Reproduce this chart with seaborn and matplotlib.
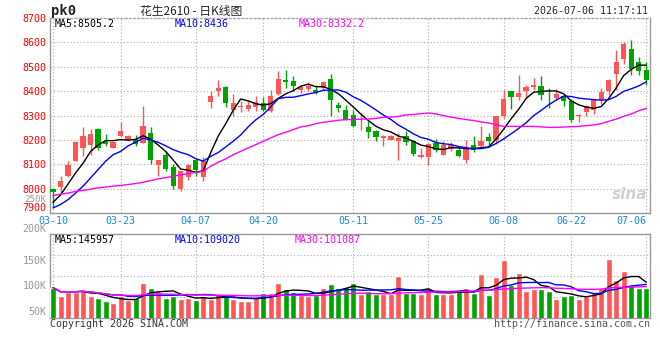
import numpy as np
import pandas as pd
import matplotlib
matplotlib.use("Agg")
import matplotlib.pyplot as plt
import matplotlib.transforms as mtransforms
import seaborn as sns

# ---- data ----
tick_idx = [0, 9, 19, 28, 40, 50, 60, 69, 79]
tick_lbl = ["03-10", "03-23", "04-07", "04-20", "05-11", "05-25", "06-08", "06-22", "07-06"]

opens = [8000, 8007, 8052, 8116, 8169, 8181, 8247, 8192, 8169, 8215,
         8199, 8204, 8188, 8230, 8097, 8140, 8089, 8000, 8049, 8120,
         8049, 8354, 8400, 8417, 8322, 8335, 8327, 8335, 8352, 8318,
         8390, 8447, 8443, 8404, 8410, 8406, 8413, 8450, 8345, 8324,
         8304, 8289, 8252, 8239, 8210, 8202, 8195, 8218, 8195, 8131,
         8129, 8188, 8140, 8163, 8161, 8117, 8180, 8177, 8213, 8202,
         8297, 8400, 8375, 8400, 8416, 8423, 8390, 8372, 8382, 8361,
         8297, 8314, 8324, 8365, 8402, 8472, 8532, 8574, 8518, 8488]
closes = [7986, 8034, 8097, 8191, 8217, 8226, 8169, 8185, 8191, 8238,
          8215, 8185, 8259, 8120, 8120, 8083, 8011, 8072, 8098, 8076,
          8113, 8382, 8413, 8352, 8352, 8341, 8345, 8354, 8324, 8382,
          8450, 8436, 8420, 8416, 8423, 8398, 8436, 8363, 8330, 8288,
          8259, 8291, 8232, 8213, 8215, 8215, 8207, 8191, 8144, 8140,
          8184, 8161, 8178, 8181, 8136, 8168, 8161, 8198, 8195, 8297,
          8369, 8375, 8393, 8417, 8425, 8386, 8387, 8390, 8361, 8281,
          8303, 8341, 8365, 8395, 8447, 8520, 8595, 8491, 8481, 8447]
highs = [8004, 8052, 8116, 8195, 8252, 8247, 8250, 8225, 8195, 8273,
         8222, 8222, 8341, 8252, 8120, 8157, 8100, 8072, 8102, 8127,
         8129, 8400, 8447, 8420, 8390, 8359, 8359, 8379, 8375, 8404,
         8481, 8485, 8464, 8427, 8436, 8427, 8440, 8472, 8354, 8345,
         8324, 8311, 8277, 8243, 8222, 8222, 8229, 8236, 8199, 8168,
         8188, 8206, 8195, 8191, 8177, 8199, 8216, 8259, 8229, 8300,
         8406, 8402, 8468, 8427, 8454, 8464, 8413, 8409, 8386, 8365,
         8307, 8345, 8369, 8413, 8450, 8570, 8600, 8611, 8540, 8520]
lows = [7925, 7984, 8050, 8114, 8136, 8140, 8161, 8174, 8167, 8213,
        8195, 8174, 8186, 8100, 8052, 8072, 8000, 7990, 8035, 8052,
        8031, 8331, 8379, 8335, 8297, 8314, 8318, 8318, 8318, 8314,
        8386, 8413, 8399, 8393, 8402, 8390, 8404, 8297, 8314, 8284,
        8254, 8243, 8209, 8195, 8174, 8202, 8120, 8181, 8136, 8127,
        8097, 8150, 8140, 8157, 8131, 8104, 8150, 8168, 8177, 8185,
        8290, 8329, 8365, 8376, 8406, 8365, 8331, 8365, 8338, 8273,
        8274, 8300, 8307, 8349, 8386, 8406, 8513, 8468, 8468, 8427]

# volume, thousand lots
vols = [95.7, 80.0, 87.8, 87.8, 91.2, 80.0, 76.1, 69.6, 66.3, 79.4,
        71.0, 76.1, 105.5, 95.7, 89.8, 76.1, 80.0, 74.1, 74.9, 71.6,
        79.4, 73.5, 81.4, 79.4, 74.1, 69.6, 69.6, 78.0, 84.7, 84.7,
        104.9, 93.1, 87.8, 81.4, 79.4, 81.4, 94.5, 102.9, 95.7, 97.0,
        104.3, 82.7, 89.2, 82.7, 82.7, 82.7, 119.2, 84.7, 84.7, 83.3,
        95.7, 82.7, 82.7, 82.7, 91.2, 95.7, 85.9, 122.5, 81.4, 116.6,
        150.0, 101.0, 124.5, 89.8, 92.5, 92.5, 89.2, 74.1, 80.0, 81.4,
        74.1, 79.4, 87.2, 95.7, 151.9, 110.8, 128.4, 101.0, 95.7, 95.7]

# moving averages: warm-up values and MA30
ma5_head = [7945, 7975, 8020, 8065]
ma10_head = [7922, 7936, 7956, 7983, 8011, 8045, 8079, 8113, 8140]
ma30 = [7973, 7978, 7983, 7990, 7994, 7999, 8004, 8008, 8011, 8014,
        8018, 8022, 8027, 8034, 8041, 8046, 8052, 8057, 8063, 8067,
        8072, 8093, 8109, 8123, 8140, 8154, 8168, 8181, 8195, 8209,
        8222, 8232, 8243, 8254, 8259, 8267, 8273, 8277, 8281, 8284,
        8284, 8286, 8286, 8289, 8293, 8294, 8297, 8303, 8305, 8308,
        8311, 8307, 8300, 8294, 8289, 8284, 8280, 8274, 8270, 8263,
        8256, 8256, 8256, 8256, 8256, 8254, 8252, 8252, 8253, 8255,
        8256, 8259, 8262, 8267, 8277, 8286, 8297, 8307, 8320, 8330]

df = pd.DataFrame({"open": opens, "close": closes, "high": highs, "low": lows, "vol": vols})
df["idx"] = np.arange(len(df))
df["ma5"] = df["close"].rolling(5).mean()
df.loc[:3, "ma5"] = ma5_head
df["ma10"] = df["close"].rolling(10).mean()
df.loc[:8, "ma10"] = ma10_head
df["ma30"] = ma30
df["vma5"] = df["vol"].rolling(5, min_periods=1).mean()
df["vma10"] = df["vol"].rolling(10, min_periods=1).mean()
df["vma30"] = df["vol"].rolling(30, min_periods=1).mean()
df["dir"] = np.where(df["close"] >= df["open"], "up", "down")

RED = "#ff5555"
GREEN = "#00a400"
GRID = "#aaaaaa"
MONO = "DejaVu Sans Mono"

sns.set_style("white")
plt.rcParams["font.family"] = ["DejaVu Sans Mono", "Noto Sans CJK SC"]

fig = plt.figure(figsize=(6.6, 3.6), dpi=100)
ax = fig.add_axes([50 / 660, 1 - 213.3 / 360, 600 / 660, 195.3 / 360])
axv = fig.add_axes([50 / 660, 1 - 318 / 360, 600 / 660, 84 / 360])

# ---- price panel ----
cols = [RED if d == "up" else GREEN for d in df["dir"]]
ax.vlines(df["idx"], df["low"], df["high"], colors=cols, lw=1, zorder=3)
body_lo = np.minimum(df["open"], df["close"])
body_h = np.maximum((df["close"] - df["open"]).abs(), 3)
ax.bar(df["idx"], body_h, bottom=body_lo, width=0.7, color=cols, lw=0, zorder=4)

sns.lineplot(data=df, x="idx", y="ma5", color="black", lw=1, ax=ax, zorder=5)
sns.lineplot(data=df, x="idx", y="ma10", color="#0000ff", lw=1, ax=ax, zorder=5)
sns.lineplot(data=df, x="idx", y="ma30", color="#ff00ff", lw=1, ax=ax, zorder=5)

ax.set_xlim(-0.4, 79.5)
ax.set_ylim(7900, 8700)
ax.set_yticks(range(7900, 8701, 100))
ax.set_xticks(tick_idx)
ax.set_xticklabels(tick_lbl)
ax.set_xlabel("")
ax.set_ylabel("")
ax.tick_params(axis="y", colors="#ff0000", labelsize=7.2, length=0, pad=2.5)
ax.tick_params(axis="x", colors="#1a88d8", labelsize=7.2, length=0, pad=2)
for lab in ax.get_xticklabels():
    lab.set_color("#1a88d8")
ax.get_xticklabels()[-1].set_ha("right")
ax.get_yticklabels()[0].set_va("bottom")
ax.grid(True, color=GRID, ls=(0, (1, 2)), lw=0.8)
for s in ax.spines.values():
    s.set_color("#999999")
    s.set_linewidth(1)
ax.spines["top"].set_linestyle((0, (1, 2)))
ax.spines["top"].set_color(GRID)

ax.text(0.007, 0.997, "MA5:8505.2", transform=ax.transAxes, va="top", ha="left",
        fontsize=7.2, color="black", zorder=6)
ax.text(0.208, 0.997, "MA10:8436", transform=ax.transAxes, va="top", ha="left",
        fontsize=7.2, color="#0000ff", zorder=6)
ax.text(0.415, 0.997, "MA30:8332.2", transform=ax.transAxes, va="top", ha="left",
        fontsize=7.2, color="#ff00ff", zorder=6)
ax.text(0.995, 0.06, "sina", transform=ax.transAxes, va="bottom", ha="right",
        fontsize=11, color="#d0d0d0", fontstyle="italic", fontweight="bold",
        family="DejaVu Sans", zorder=1)

# ---- volume panel ----
sns.barplot(data=df, x="idx", y="vol", hue="dir", palette={"up": RED, "down": GREEN},
            native_scale=True, width=0.8, saturation=1, dodge=False, legend=False,
            errorbar=None, ax=axv, zorder=3)
sns.lineplot(data=df, x="idx", y="vma5", color="black", lw=1, ax=axv, zorder=5)
sns.lineplot(data=df, x="idx", y="vma10", color="#0000ff", lw=1, ax=axv, zorder=5)
sns.lineplot(data=df, x="idx", y="vma30", color="#ff00ff", lw=1, ax=axv, zorder=5)

vlo, vhi = 36.28, 200.9
axv.set_xlim(-0.4, 79.5)
axv.set_ylim(vlo, vhi)
axv.set_yticks([50, 100, 150, 200])
axv.set_yticklabels(["50K", "100K", "150K", "200K"])
axv.get_yticklabels()[-1].set_va("bottom")
axv.set_yticks(np.linspace(vlo, vhi, 5)[1:-1], minor=True)
axv.set_xticks(tick_idx)
axv.set_xticklabels([])
axv.set_xlabel("")
axv.set_ylabel("")
axv.tick_params(axis="y", which="both", colors="#999999", labelsize=7.2, length=0, pad=2.5)
axv.tick_params(axis="x", length=0)
axv.grid(False)
axv.grid(True, axis="x", color=GRID, ls=(0, (1, 2)), lw=0.8)
axv.grid(True, axis="y", which="minor", color=GRID, ls=(0, (1, 2)), lw=0.8)
for s in axv.spines.values():
    s.set_color("#999999")
    s.set_linewidth(1)
# stray top label of the volume scale, sitting over the price panel
lab_tr = mtransforms.blended_transform_factory(axv.transAxes, fig.transFigure)
axv.text(-0.0065, 1 - 199.5 / 360, "250K", transform=lab_tr, ha="right", va="center",
         fontsize=6.6, color="#999999", clip_on=False)

axv.text(0.008, 0.99, "MA5:145957", transform=axv.transAxes, va="top", ha="left",
         fontsize=7.2, color="black", zorder=6)
axv.text(0.208, 0.99, "MA10:109020", transform=axv.transAxes, va="top", ha="left",
         fontsize=7.2, color="#0000ff", zorder=6)
axv.text(0.408, 0.99, "MA30:101087", transform=axv.transAxes, va="top", ha="left",
         fontsize=7.2, color="#ff00ff", zorder=6)

# ---- header / footer ----
fig.text(51 / 660, 1 - 11 / 360, "pk0", ha="left", va="center", fontsize=10,
         fontweight="bold", family=MONO)
fig.text(140 / 660, 1 - 11 / 360, "花生2610 - 日K线图", ha="left", va="center", fontsize=8.5,
         family=["Noto Sans CJK SC", "DejaVu Sans"])
fig.text(648 / 660, 1 - 11 / 360, "2026-07-06 11:17:11", ha="right", va="center",
         fontsize=7.2, family=MONO)
fig.text(50 / 660, 1 - 324 / 360, "Copyright 2026 SINA.COM", ha="left", va="center",
         fontsize=7.2, color="#333333", family=MONO)
fig.text(650 / 660, 1 - 324 / 360, "http://finance.sina.com.cn", ha="right", va="center",
         fontsize=7.2, color="#555555", family=MONO)

fig.savefig("out.png", dpi=100)
